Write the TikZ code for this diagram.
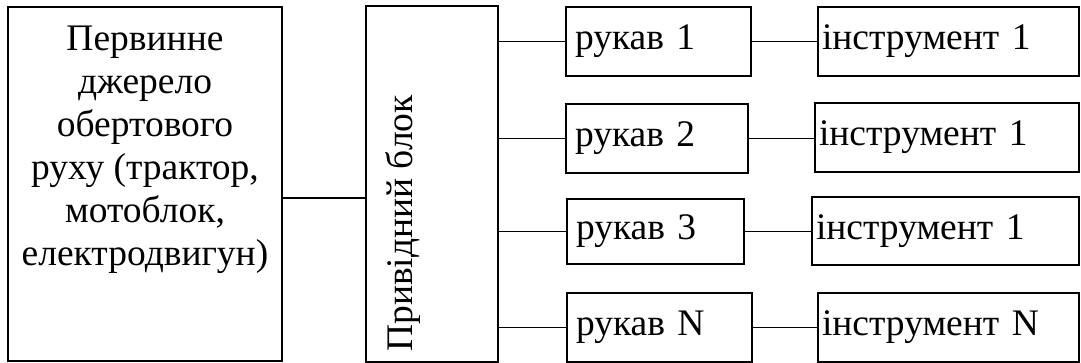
\documentclass[tikz,border=0pt]{standalone}
\usepackage{fontspec}
\setmainfont{Liberation Serif}
\begin{document}
\begin{tikzpicture}[x=1pt,y=-1pt,
  box/.style={draw, line width=1.8pt, inner sep=0pt, outer sep=0pt, anchor=north west},
  lbl/.style={font=\fontsize{37.5}{43}\selectfont},
  link/.style={line width=1.8pt},
  sleeve/.style={box, lbl, minimum height=69pt, inner xsep=9pt, align=left},
  tool/.style={box, lbl, minimum height=69pt, inner xsep=4pt, align=left}]
\useasboundingbox (0,0) rectangle (1081,363);

% source of rotary motion
\node[box, minimum width=274pt, minimum height=354pt] (src) at (8,7) {};
\node[lbl, align=center, anchor=north, inner sep=0pt] (srctext) at (145,26)
  {Первинне\\джерело\\обертового\\руху (трактор,\\мотоблок,\\електродвигун)};

% drive unit
\node[box, minimum width=132pt, minimum height=356pt] (drv) at (366,6) {};
\node[lbl, rotate=90, anchor=base west, inner sep=0pt] (drvtext) at (412,352) {Привідний блок};

% sleeves
\node[sleeve, text width=167pt] (r1) at (566,7)   {рукав 1};
\node[sleeve, text width=164pt] (r2) at (566,104) {рукав 2};
\node[sleeve, text width=159pt, minimum height=65pt] (r3) at (567,199) {рукав 3};
\node[sleeve, text width=167pt] (rN) at (567,293) {рукав N};

% tools
\node[tool, text width=253pt] (i1) at (818,7)   {інструмент 1};
\node[tool, text width=256pt] (i2) at (815,103) {інструмент 1};
\node[tool, text width=259pt, minimum height=68pt] (i3) at (812,197) {інструмент 1};
\node[tool, text width=253pt] (iN) at (818,293) {інструмент N};

% connections
\draw[link] ([yshift=-14pt]src.east) -- ([yshift=-14pt]src.east -| drv.west);
\foreach \r/\i in {r1/i1, r2/i2, r3/i3, rN/iN}{
  \draw[link] (\r.west -| drv.east) -- (\r.west);
  \draw[link] (\r.east) -- (\r.east -| \i.west);
}
\end{tikzpicture}
\end{document}
